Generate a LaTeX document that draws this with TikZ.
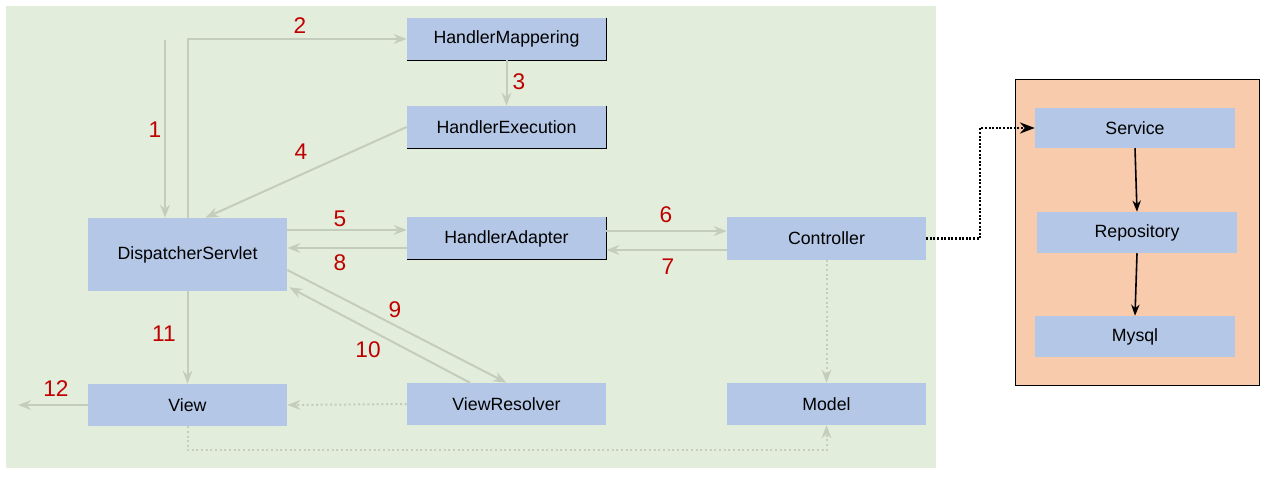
\documentclass[tikz,border=0pt]{standalone}
\usepackage{fontspec}
\setmainfont{Liberation Sans}
\usetikzlibrary{arrows.meta}

\definecolor{fondo}{RGB}{226,237,219}
\definecolor{azul}{RGB}{180,199,231}
\definecolor{naranja}{RGB}{248,203,173}
\definecolor{gris}{RGB}{196,205,189}
\definecolor{rojo}{RGB}{192,0,0}

\begin{document}
\begin{tikzpicture}[x=0.75pt,y=-0.75pt,>=Stealth,
  caja/.style={fill=azul, inner sep=0pt, minimum width=149.25pt, minimum height=31.5pt,
    font=\fontsize{13.3}{16}\selectfont},
  flecha/.style={draw=gris, line width=1.5pt, ->},
  punteada/.style={draw=gris, line width=1.5pt, dotted, ->},
  negra/.style={draw=black, line width=1.2pt, ->},
  numero/.style={text=rojo, font=\fontsize{17}{20}\selectfont}]
  \useasboundingbox (0,0) rectangle (1266,477);

  % Fondos
  \fill[fondo] (6,6) rectangle (936,468);
  \draw[fill=naranja, line width=0.75pt] (1015,80) rectangle (1259,385);

  % Cajas
  \node[caja] (HM) at (506.5,39) {HandlerMappering};
  \node[caja] (HE) at (506.5,127) {HandlerExecution};
  \node[caja, minimum height=54.75pt] (DS) at (187.5,254.5) {DispatcherServlet};
  \node[caja] (HA) at (506.5,238.5) {HandlerAdapter};
  \node[caja] (Ctrl) at (826.5,238.5) {Controller};
  \node[caja] (View) at (187.5,405) {View};
  \node[caja] (VR) at (506.5,404) {ViewResolver};
  \node[caja] (Model) at (826.5,404) {Model};
  \node[caja, minimum width=150pt, minimum height=30pt] (Serv) at (1135,128) {Service};
  \node[caja, minimum width=150pt, minimum height=30.75pt] (Repo) at (1137,232.5) {Repository};
  \node[caja, minimum width=150pt, minimum height=30.75pt] (Mysql) at (1135,336.5) {Mysql};

  % Bordes negros
  \foreach \c in {HM,HE,HA}
    \draw[line width=0.9pt] (\c.north east) -- (\c.south east) -- (\c.south west);

  % Extremos libres
  \coordinate (entrada) at (165,40);
  \coordinate (salida) at (18,405);

  % Flujo principal
  \draw[flecha] (entrada) -- (entrada |- DS.north);
  \draw[flecha] (DS.north) |- (HM.west);
  \draw[flecha] (HM.south) -- (HE.north);
  \draw[flecha] (HE.west) -- ([xshift=13.5pt]DS.north);
  \draw[flecha] ([yshift=18.4pt]DS.east) -- ([yshift=6.4pt]HA.west);
  \draw[flecha] ([yshift=-7.1pt]HA.west) -- ([yshift=4.9pt]DS.east);
  \draw[flecha] ([yshift=5.6pt]HA.east) -- ([yshift=5.6pt]Ctrl.west);
  \draw[flecha] ([yshift=-8.6pt]Ctrl.west) -- ([yshift=-8.6pt]HA.east);
  \draw[flecha] ([yshift=-11.6pt]DS.east) -- (VR.north);
  \draw[flecha] ([xshift=-27.4pt]VR.north) -- ([xshift=1.5pt,yshift=3pt]DS.south east);
  \draw[flecha] (DS.south) -- (View.north);
  \draw[flecha] (View.west) -- (salida);

  % Punteadas
  \draw[punteada] (VR.west) -- (View.east);
  \draw[punteada] (Ctrl.south) -- (Model.north);
  \draw[punteada] (View.south) -- ++(0,24) -| (Model.south);

  % Capa de servicio
  \draw[negra, line width=1.8pt, dash pattern=on 1.5pt off 1.2pt] (Ctrl.east) -- ++(54,0) |- (Serv.west);
  \draw[negra] (Serv.south) -- (Repo.north);
  \draw[negra] (Repo.south) -- (Mysql.north);

  % Numeros
  \node[numero] (n1) at (155,130) {1};
  \node[numero] (n2) at (300,26) {2};
  \node[numero] (n3) at (519,82) {3};
  \node[numero] (n4) at (301,152) {4};
  \node[numero] (n5) at (340,219) {5};
  \node[numero] (n6) at (666,215) {6};
  \node[numero] (n7) at (668,267) {7};
  \node[numero] (n8) at (340,263) {8};
  \node[numero] (n9) at (395,310) {9};
  \node[numero] (n10) at (368,350) {10};
  \node[numero] (n11) at (164,334) {11};
  \node[numero] (n12) at (56,389) {12};
\end{tikzpicture}
\end{document}
